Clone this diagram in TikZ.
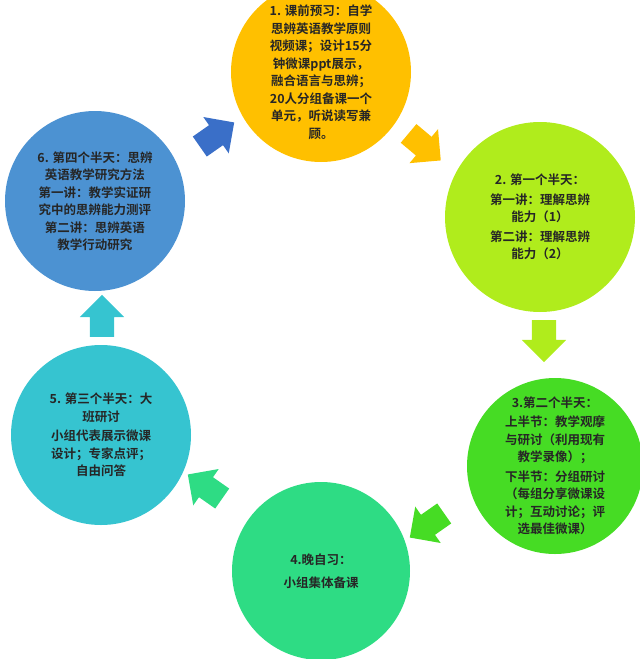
\documentclass[tikz,border=0pt]{standalone}
\usepackage{fontspec}
\setmainfont{Noto Sans CJK SC}[BoldFont={* Bold}]
\usetikzlibrary{shapes.arrows}
\definecolor{c1}{HTML}{FFC000}
\definecolor{c2}{HTML}{B0EC1C}
\definecolor{c3}{HTML}{46DC24}
\definecolor{c4}{HTML}{2EDC84}
\definecolor{c5}{HTML}{36C4D0}
\definecolor{c6}{HTML}{4C92D2}
\definecolor{a6}{HTML}{3A6FC8}
\tikzset{
 circ/.style={circle,fill=#1,minimum size=180pt,inner sep=0pt,align=center,font=\bfseries\fontsize{12.5}{17.5}\selectfont,text=black!85},
 arr/.style={single arrow,fill=#1,minimum height=42pt,inner xsep=0pt,inner ysep=12pt,single arrow head extend=10pt,single arrow head indent=0pt}
}
\begin{document}
\begin{tikzpicture}[x=1pt,y=-1pt]
\useasboundingbox (0,0) rectangle (640,659);
\node[circ=c1] (n1) at (321,72) {1. 课前预习：自学\\思辨英语教学原则\\视频课；设计15分\\钟微课ppt展示，\\融合语言与思辨；\\20人分组备课一个\\单元，听说读写兼\\顾。};
\node[circ=c2,minimum size=190pt] (n2) at (540,217) {2. 第一个半天：\\[2pt]第一讲：理解思辨\\能力（1）\\[2pt]第二讲：理解思辨\\能力（2）};
\node[circ=c3,minimum size=176pt] (n3) at (555,466) {3.第二个半天：\\[2pt]上半节：教学观摩\\与研讨（利用现有\\教学录像）；\\[2pt]下半节：分组研讨\\（每组分享微课设\\计；互动讨论；评\\选最佳微课）};
\node[circ=c4,minimum size=178pt] (n4) at (321,571) {4.晚自习：\\[6pt]小组集体备课};
\node[circ=c5] (n5) at (101,435) {5. 第三个半天：大\\班研讨\\[2pt]小组代表展示微课\\设计；专家点评；\\自由问答};
\node[circ=c6] (n6) at (95,201) {6. 第四个半天：思辨\\英语教学研究方法\\第一讲：教学实证研\\究中的思辨能力测评\\第二讲：思辨英语\\教学行动研究};
\node[arr=c1,rotate=-40] (a1) at (420,143) {};
\node[arr=c2,rotate=-90] (a2) at (544,335) {};
\node[arr=c3,rotate=-145] (a3) at (432,522) {};
\node[arr=c4,rotate=145] (a4) at (210,490) {};
\node[arr=c5,rotate=90] (a5) at (102,322) {};
\node[arr=a6,rotate=35] (a6) at (212,138) {};
\end{tikzpicture}
\end{document}
